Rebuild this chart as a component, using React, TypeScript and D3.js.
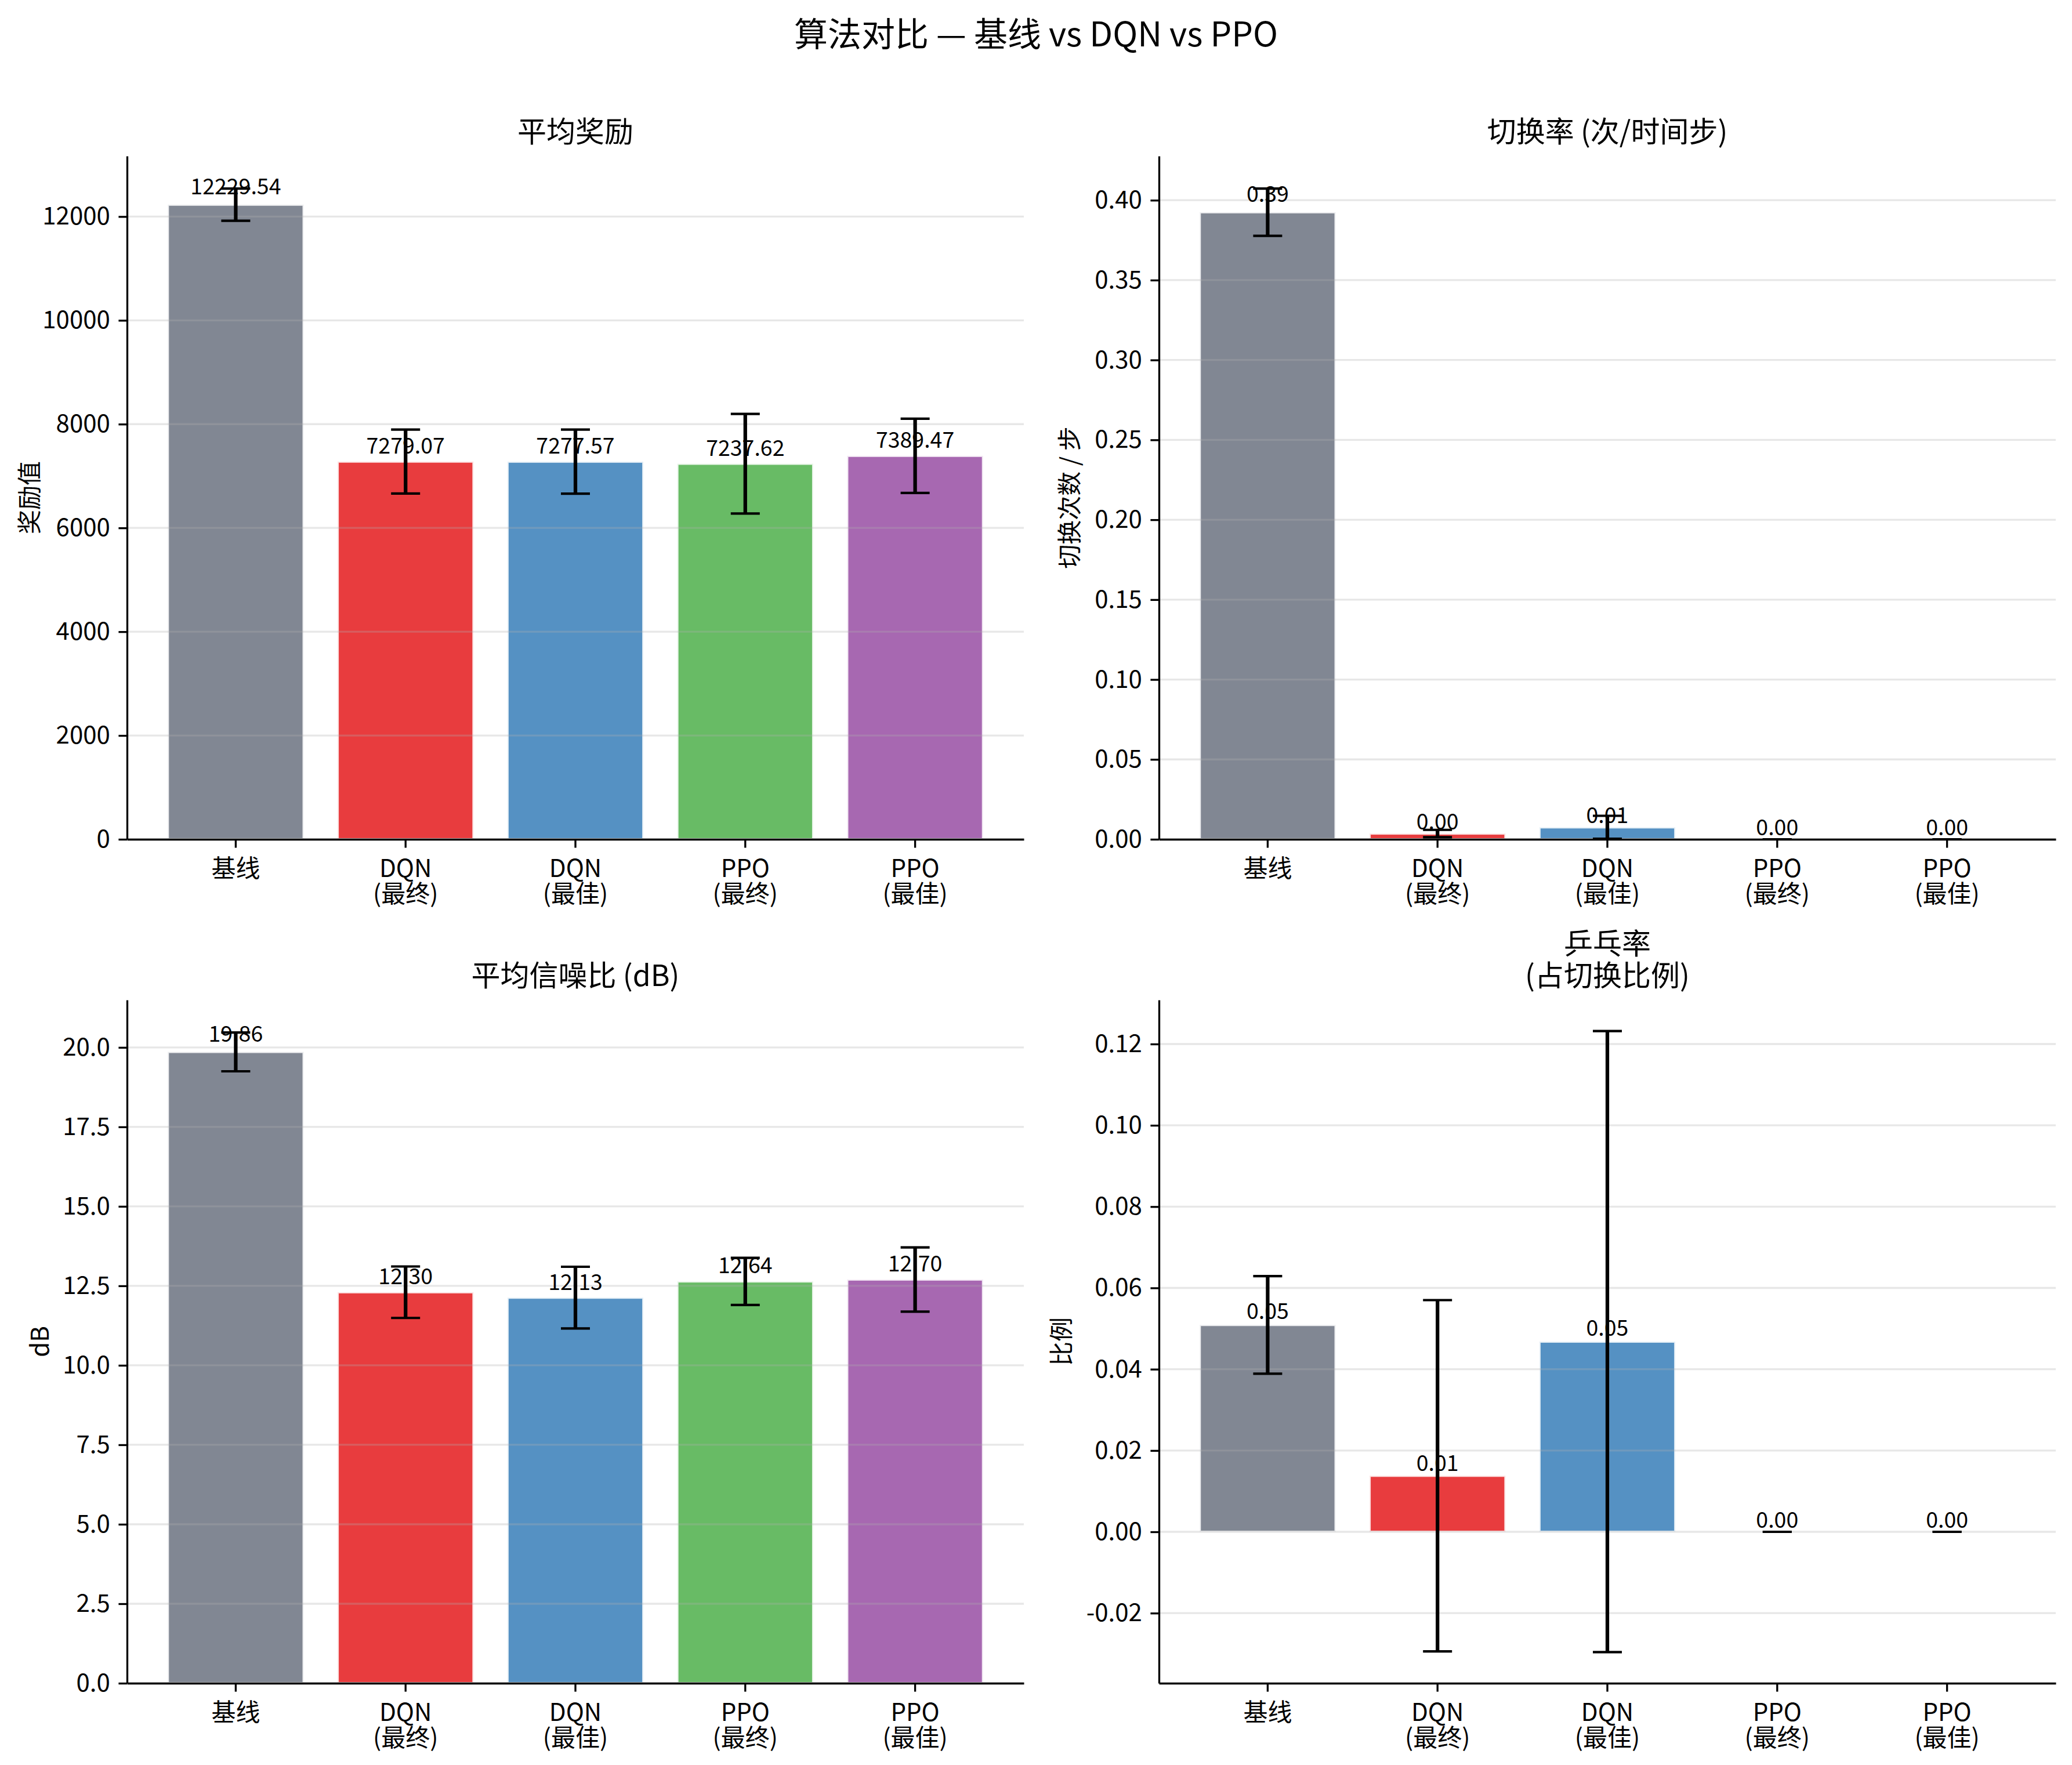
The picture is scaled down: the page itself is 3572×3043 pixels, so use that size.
import React, { useEffect, useRef } from 'react';
import * as d3 from 'd3';

// categories shared by all four panels
const categories = ['基线', 'DQN\n(最终)', 'DQN\n(最佳)', 'PPO\n(最终)', 'PPO\n(最佳)'];
const barColors = ['#6b7280', '#e41a1c', '#377eb8', '#4daf4a', '#984ea3'];

// 平均奖励
const rewardMean = [12229.54, 7279.07, 7277.57, 7237.62, 7389.47];
const rewardStd = [310, 616, 617, 960, 715];
const rewardTicks = [0, 2000, 4000, 6000, 8000, 10000, 12000];

// 切换率
const switchMean = [0.3925, 0.0036, 0.0075, 0, 0];
const switchStd = [0.0148, 0.0023, 0.0072, 0, 0];
const switchTicks = [0, 0.05, 0.1, 0.15, 0.2, 0.25, 0.3, 0.35, 0.4];

// 平均信噪比
const snrMean = [19.86, 12.3, 12.13, 12.64, 12.7];
const snrStd = [0.61, 0.81, 0.97, 0.74, 1.01];
const snrTicks = [0, 2.5, 5, 7.5, 10, 12.5, 15, 17.5, 20];

// 乒乓率
const pingpongMean = [0.0509, 0.0138, 0.0468, 0, 0];
const pingpongStd = [0.012, 0.0432, 0.0764, 0, 0];
const pingpongTicks = [-0.02, 0, 0.02, 0.04, 0.06, 0.08, 0.1, 0.12];

const W = 3572;
const H = 3043;
const PT = 300 / 72;
const FONT = "'Noto Sans CJK SC', 'Noto Sans', 'DejaVu Sans', sans-serif";
const AX_W = 1546;
const AX_H = 1178;

interface Panel {
  title: string[];
  ylabel: string;
  mean: number[];
  std: number[];
  ticks: number[];
  fmt: (v: number) => string;
  left: number;
  top: number;
  labelX: number;
}

const panels: Panel[] = [
  { title: ['平均奖励'], ylabel: '奖励值', mean: rewardMean, std: rewardStd, ticks: rewardTicks,
    fmt: d3.format('d'), left: 219, top: 269, labelX: 50 },
  { title: ['切换率 (次/时间步)'], ylabel: '切换次数 / 步', mean: switchMean, std: switchStd, ticks: switchTicks,
    fmt: d3.format('.2f'), left: 1998, top: 269, labelX: 1843 },
  { title: ['平均信噪比 (dB)'], ylabel: 'dB', mean: snrMean, std: snrStd, ticks: snrTicks,
    fmt: d3.format('.1f'), left: 219, top: 1724, labelX: 68 },
  { title: ['乒乓率', '(占切换比例)'], ylabel: '比例', mean: pingpongMean, std: pingpongStd, ticks: pingpongTicks,
    fmt: (v: number) => d3.format('.2f')(v).replace('−', '-'), left: 1998, top: 1724, labelX: 1829 },
];

const App: React.FC = () => {
  const svgRef = useRef<SVGSVGElement>(null);

  useEffect(() => {
    if (!svgRef.current) return;
    const svg = d3.select(svgRef.current);
    svg.selectAll('*').remove();

    svg.append('rect').attr('width', W).attr('height', H).attr('fill', 'white');

    // Figure title
    svg.append('text')
      .attr('x', 1786)
      .attr('y', 80)
      .attr('text-anchor', 'middle')
      .style('font-family', FONT)
      .style('font-size', '58px')
      .style('fill', '#000')
      .text('算法对比 — 基线 vs DQN vs PPO');

    panels.forEach(p => {
      const x0 = p.left;
      const x1 = p.left + AX_W;
      const y0 = p.top;
      const y1 = p.top + AX_H;

      // data limits incl. error bars, 5% margins, bars stick to zero
      const lows = p.mean.map((m, i) => m - p.std[i]);
      const highs = p.mean.map((m, i) => m + p.std[i]);
      const lo0 = Math.min(0, d3.min(lows) as number);
      const hi0 = d3.max(highs) as number;
      const span = hi0 - lo0;
      const lo = lo0 < 0 ? lo0 - 0.05 * span : 0;
      const hi = hi0 + 0.05 * span;

      const y = d3.scaleLinear().domain([lo, hi]).range([y1, y0]);
      const x = d3.scaleBand<string>()
        .domain(categories)
        .range([x0, x1])
        .paddingInner(0.2)
        .paddingOuter(0.24);
      const cx = (i: number) => (x(categories[i]) as number) + x.bandwidth() / 2;

      const g = svg.append('g');

      // Bars
      g.selectAll('.bar')
        .data(p.mean)
        .enter().append('rect')
        .attr('class', 'bar')
        .attr('x', (d, i) => x(categories[i]) as number)
        .attr('width', x.bandwidth())
        .attr('y', d => Math.min(y(d), y(0)))
        .attr('height', d => Math.abs(y(0) - y(d)))
        .attr('fill', (d, i) => barColors[i])
        .attr('fill-opacity', 0.85)
        .attr('stroke', 'white')
        .attr('stroke-opacity', 0.85)
        .attr('stroke-width', 4);

      // Grid (above bars, like matplotlib)
      g.selectAll('.grid')
        .data(p.ticks)
        .enter().append('line')
        .attr('class', 'grid')
        .attr('x1', x0)
        .attr('x2', x1)
        .attr('y1', d => y(d))
        .attr('y2', d => y(d))
        .attr('stroke', '#b0b0b0')
        .attr('stroke-opacity', 0.3)
        .attr('stroke-width', 0.8 * PT);

      // Error bars
      const capHalf = 6 * PT;
      p.mean.forEach((m, i) => {
        const s = p.std[i];
        const c = cx(i);
        g.append('line')
          .attr('x1', c).attr('x2', c)
          .attr('y1', y(m - s)).attr('y2', y(m + s))
          .attr('stroke', '#000')
          .attr('stroke-width', 1.5 * PT);
        [m - s, m + s].forEach(v => {
          g.append('line')
            .attr('x1', c - capHalf).attr('x2', c + capHalf)
            .attr('y1', y(v)).attr('y2', y(v))
            .attr('stroke', '#000')
            .attr('stroke-width', 1.0 * PT);
        });
      });

      // Y axis
      const yAxis = d3.axisLeft(y)
        .tickValues(p.ticks)
        .tickFormat(d => p.fmt(d as number))
        .tickSize(3.5 * PT)
        .tickPadding(3.5 * PT)
        .tickSizeOuter(0);
      const ya = g.append('g').attr('transform', `translate(${x0},0)`).call(yAxis);
      ya.attr('font-family', FONT).attr('font-size', 42);
      ya.select('.domain').attr('stroke', '#000').attr('stroke-width', 0.8 * PT);
      ya.selectAll('.tick line').attr('stroke', '#000').attr('stroke-width', 0.8 * PT);
      ya.selectAll('.tick text').attr('fill', '#000');

      // X axis with two-line labels
      const xAxis = d3.axisBottom(x)
        .tickSize(3.5 * PT)
        .tickPadding(3.5 * PT)
        .tickSizeOuter(0);
      const xa = g.append('g').attr('transform', `translate(0,${y1})`).call(xAxis);
      xa.attr('font-family', FONT).attr('font-size', 42);
      xa.select('.domain').attr('stroke', '#000').attr('stroke-width', 0.8 * PT);
      xa.selectAll('.tick line').attr('stroke', '#000').attr('stroke-width', 0.8 * PT);
      xa.selectAll<SVGTextElement, string>('.tick text').each(function (d) {
        const t = d3.select(this);
        t.text(null).attr('dy', null).attr('fill', '#000');
        d.split('\n').forEach((ln, k) => {
          t.append('tspan')
            .attr('x', 0)
            .attr('dy', k === 0 ? 36 : 44)
            .text(ln);
        });
      });

      // Value labels
      g.selectAll('.val')
        .data(p.mean)
        .enter().append('text')
        .attr('class', 'val')
        .attr('x', (d, i) => cx(i))
        .attr('y', d => y(d * 1.01) - 7)
        .attr('text-anchor', 'middle')
        .style('font-family', FONT)
        .style('font-size', '37.5px')
        .style('fill', '#000')
        .text(d => d3.format('.2f')(d));

      // Panel title
      const tcx = (x0 + x1) / 2;
      p.title.forEach((ln, k) => {
        g.append('text')
          .attr('x', tcx)
          .attr('y', y0 - 24 - (p.title.length - 1 - k) * 55)
          .attr('text-anchor', 'middle')
          .style('font-family', FONT)
          .style('font-size', '50px')
          .style('fill', '#000')
          .text(ln);
      });

      // Y label
      const lcy = (y0 + y1) / 2;
      g.append('text')
        .attr('transform', `translate(${p.labelX + 16},${lcy}) rotate(-90)`)
        .attr('text-anchor', 'middle')
        .style('font-family', FONT)
        .style('font-size', '42px')
        .style('fill', '#000')
        .text(p.ylabel);
    });
  }, []);

  return (
    <svg
      ref={svgRef}
      width={W}
      height={H}
      style={{ position: 'absolute', left: 0, top: 0, display: 'block' }}
    />
  );
};

export default App;
